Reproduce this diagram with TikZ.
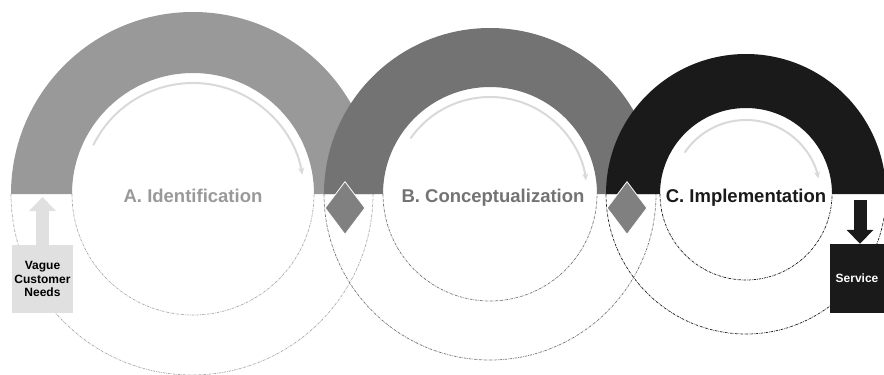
\documentclass[tikz,border=0pt]{standalone}
\usepackage{fontspec}
\setmainfont{Liberation Sans}
\usetikzlibrary{arrows.meta, positioning, shapes.geometric}
\definecolor{ringA}{RGB}{153,153,153}
\definecolor{ringB}{RGB}{115,115,115}
\definecolor{ringC}{RGB}{26,26,26}
\definecolor{gategray}{RGB}{128,128,128}
\definecolor{flowgray}{RGB}{217,217,217}
\definecolor{needsgray}{RGB}{224,224,224}

\begin{document}
\begin{tikzpicture}[x=1pt, y=1pt,
    phase/.style={font=\fontsize{18.5}{20}\selectfont\bfseries, inner sep=1pt, anchor=base},
    guide/.style={dash pattern=on 2.5pt off 1pt on 0.6pt off 1pt, line width=0.7pt},
    flow/.style={flowgray, line width=2pt, -{Stealth[length=7pt, width=6pt]}},
    gate/.style={diamond, fill=gategray, draw=white, line width=0.8pt, minimum width=40pt, minimum height=53pt, inner sep=0pt},
    endbox/.style={font=\fontsize{12}{13.5}\selectfont\bfseries, align=center, inner sep=0pt},
    blockarrow/.style={line width=13pt, -{Triangle[width=26pt, length=14pt]}}]
    \useasboundingbox (0,-181) rectangle (884,194);

    % Dashed guide circles
    \draw[guide, draw=ringA!85] (72,0) arc[start angle=180, end angle=360, radius=121pt];
    \draw[guide, draw=ringA!85] (11,0) arc[start angle=180, end angle=360, radius=181pt];
    \draw[guide, draw=ringB] (383,0) arc[start angle=180, end angle=360, radius=107pt];
    \draw[guide, draw=ringB] (324,0) arc[start angle=180, end angle=360, radius=166pt];
    \draw[guide, draw=ringC] (660,0) arc[start angle=180, end angle=360, radius=86pt];
    \draw[guide, draw=ringC] (606,0) arc[start angle=180, end angle=360, radius=140pt];

    % Phase rings
    \fill[ringA] (11,0) arc[start angle=180, end angle=0, radius=182pt] -- (314,0) arc[start angle=0, end angle=180, radius=121pt] -- cycle;
    \fill[ringB] (324,0) arc[start angle=180, end angle=0, radius=166pt] -- (597,0) arc[start angle=0, end angle=180, radius=107pt] -- cycle;
    \fill[ringC] (606,0) arc[start angle=180, end angle=0, radius=140pt] -- (832,0) arc[start angle=0, end angle=180, radius=86pt] -- cycle;

    % Flow arrows inside the rings
    \draw[flow] ([shift={(154:111pt)}]193,0) arc[start angle=154, end angle=10, radius=111pt];
    \draw[flow] ([shift={(145:97pt)}]490,0) arc[start angle=145, end angle=8, radius=97pt];
    \draw[flow] ([shift={(146:74pt)}]746,0) arc[start angle=146, end angle=12, radius=74pt];

    % Phase labels
    \node[phase, text=ringA] (phaseA) at (193,-8) {A. Identification};
    \node[phase, text=ringB] (phaseB) at (493,-8) {B. Conceptualization};
    \node[phase, text=ringC, fill=white] (phaseC) at (746,-8) {C. Implementation};

    % Gates between phases
    \node[gate] (gateAB) at (345,-14) {};
    \node[gate] (gateBC) at (627,-14) {};

    % Input and output
    \node[endbox, fill=needsgray, minimum width=61pt, minimum height=68pt] (needs) at (42.5,-85) {Vague\\Customer\\Needs};
    \node[endbox, fill=ringC, text=white, minimum width=55pt, minimum height=69pt] (service) at (857,-84.5) {Service};
    \coordinate (needsin) at (needs.north |- 0,-3);
    \coordinate (serviceout) at ([xshift=3pt]service.north |- 0,-6);
    \draw[blockarrow, needsgray] (needs.north) -- (needsin);
    \draw[blockarrow, ringC] (serviceout) -- ([xshift=3pt]service.north);
\end{tikzpicture}
\end{document}
